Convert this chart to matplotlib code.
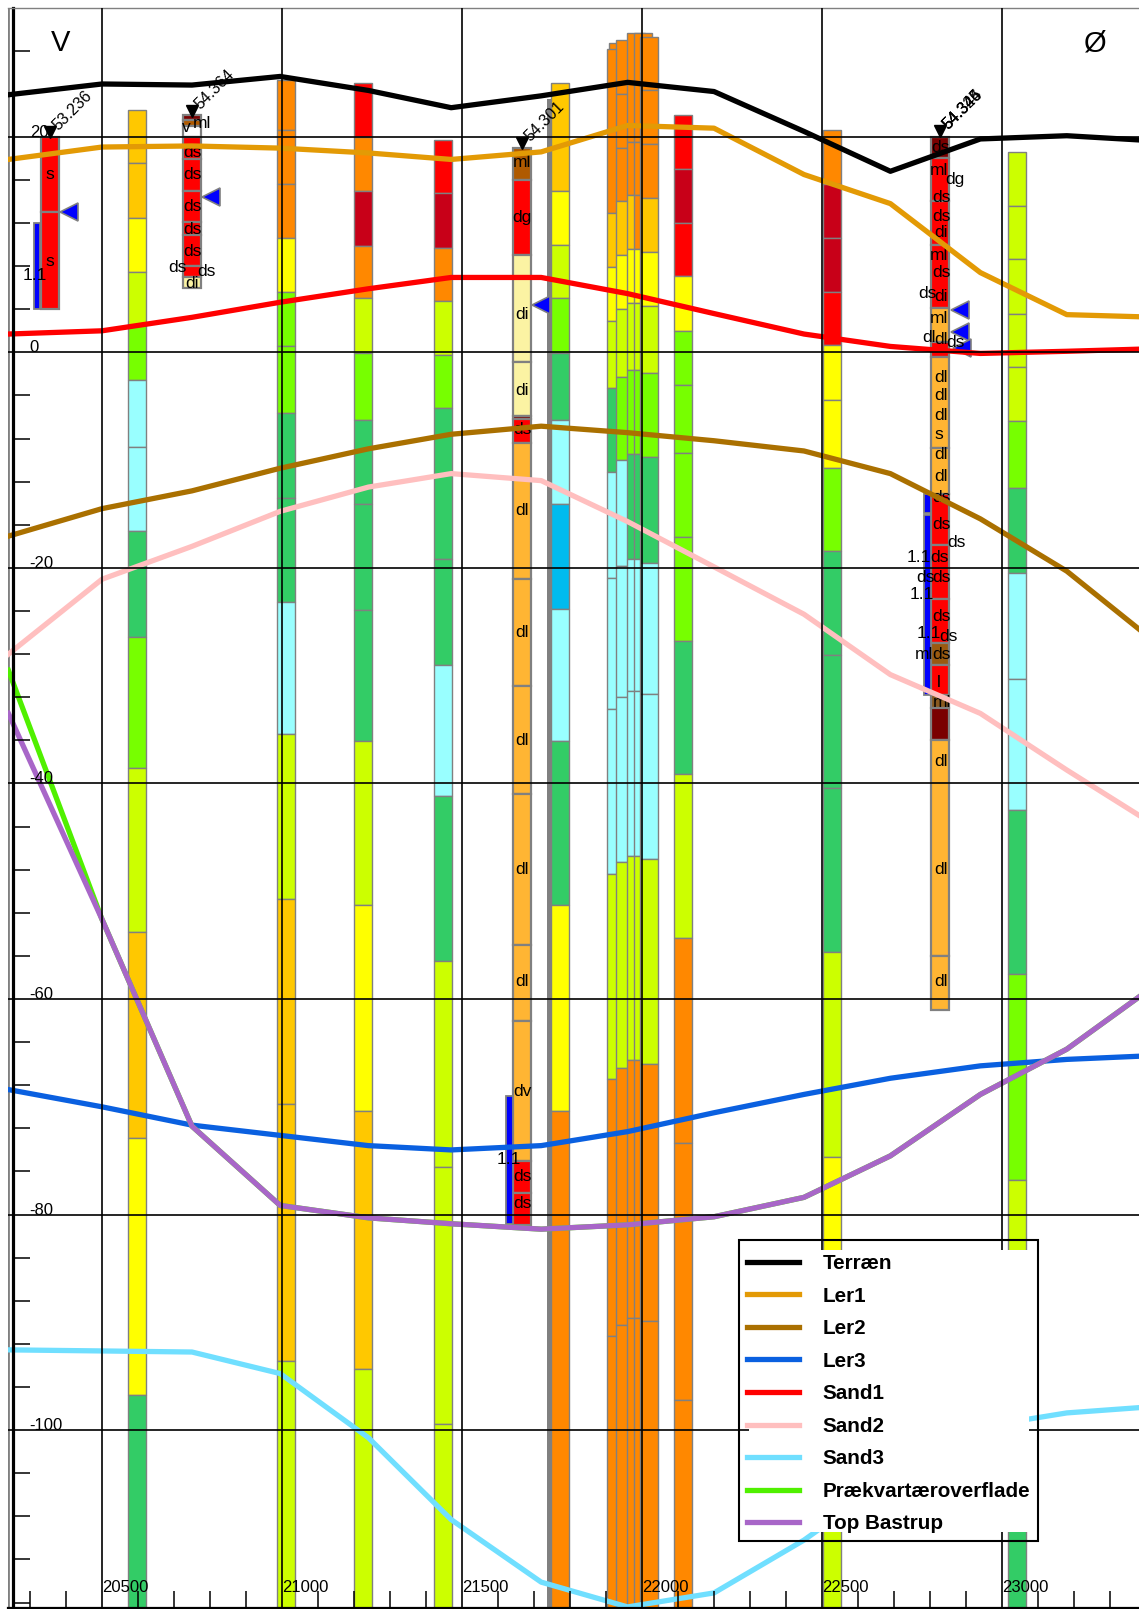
import matplotlib
matplotlib.use("Agg")
import matplotlib.pyplot as plt
from matplotlib.patches import Rectangle
from matplotlib.ticker import MultipleLocator
from matplotlib.transforms import IdentityTransform

plt.rcParams['font.family'] = ['Liberation Sans', 'DejaVu Sans']
plt.rcParams['axes.unicode_minus'] = False

# ---------- surfaces ----------
profile_x = [20240, 20500, 20750, 20995, 21240, 21470, 21720, 21960, 22200, 22450, 22690, 22940, 23180, 23385]
terraen = [23.9, 24.9, 24.8, 25.6, 24.3, 22.7, 23.8, 25.05, 24.2, 20.5, 16.8, 19.8, 20.1, 19.7]
ler1 = [17.9, 19.05, 19.15, 18.95, 18.5, 17.9, 18.6, 21.05, 20.8, 16.5, 13.8, 7.4, 3.5, 3.3]
ler2 = [-17.05, -14.5, -12.85, -10.75, -8.95, -7.6, -6.85, -7.45, -8.2, -9.15, -11.25, -15.45, -20.3, -25.8]
ler3 = [-68.4, -70.0, -71.7, -72.65, -73.6, -74.0, -73.6, -72.3, -70.55, -68.85, -67.35, -66.2, -65.6, -65.3]
sand1 = [1.7, 2.0, 3.25, 4.65, 5.9, 6.95, 6.95, 5.45, 3.6, 1.7, 0.55, -0.1, 0.1, 0.3]
sand2 = [-28.0, -21.05, -18.0, -14.75, -12.5, -11.25, -11.9, -15.7, -19.9, -24.3, -29.9, -33.5, -38.75, -43.05]
sand3 = [-92.55, -92.65, -92.75, -94.75, -100.7, -108.3, -114.1, -116.4, -115.1, -110.2, -104.5, -99.7, -98.4, -97.9]
praekvartaer = [-29.5, -52.6, -71.8, -79.15, -80.3, -80.85, -81.35, -80.95, -80.2, -78.4, -74.55, -68.85, -64.65, -59.7]
top_bastrup = [-33.5, -52.6, -71.8, -79.15, -80.3, -80.85, -81.35, -80.95, -80.2, -78.4, -74.55, -68.85, -64.65, -59.7]

series_names = ['Terræn', 'Ler1', 'Ler2', 'Ler3', 'Sand1', 'Sand2', 'Sand3', 'Prækvartæroverflade', 'Top Bastrup']
series_values = [terraen, ler1, ler2, ler3, sand1, sand2, sand3, praekvartaer, top_bastrup]
series_colors = ['#000000', '#E39A05', '#AA7000', '#0A60E0', '#FF0000', '#FFBFBF', '#70DFFF', '#50F000', '#A866C8']

# ---------- layer colours ----------
RD, DR, OR, AM, YE, YG, LI, GR, CY, SK = ('#FF0000', '#C80018', '#FF8800', '#FFC800', '#FFFF00',
                                           '#CCFF00', '#77FF00', '#33CC66', '#99FFFF', '#00BBEE')
LO, CR, BR, MA, WH = '#FFB533', '#FBF3A3', '#B05A00', '#7A0000', '#FFFFFF'
BOTTOM = -118

# ---------- resistivity model columns: x, layer boundaries, layer colours ----------
models = [
    (20597, [22.5, 17.6, 12.5, 7.5, 2.5, -2.6, -8.8, -16.6, -26.4, -38.6, -53.8, -72.9, -96.7, BOTTOM],
     [AM, AM, YE, YG, LI, CY, CY, GR, LI, YG, AM, YE, GR]),
    (21010, [25.3, 20.6, 15.6, 10.6, 5.6, 0.6, -5.6, -13.5, -23.2, -35.4, -50.7, -69.7, -93.6, BOTTOM],
     [OR, OR, OR, YE, LI, LI, GR, GR, CY, YG, AM, AM, YG]),
    (21224, [25, 20, 15, 9.9, 5, -0.1, -6.3, -14.1, -23.9, -36.1, -51.3, -70.4, -94.3, BOTTOM],
     [RD, OR, DR, OR, YG, LI, GR, GR, GR, YG, YE, AM, YG]),
    (21446, [19.7, 14.8, 9.7, 4.8, -0.2, -5.2, -19.2, -29, -41.2, -56.5, -75.6, -99.4, BOTTOM],
     [RD, DR, OR, YG, LI, GR, GR, CY, GR, YG, YG, YG]),
    (21742, [23.5, BOTTOM], ['#808080']),
    (21771, [25, 15, 10, 5, -0.1, -6.3, -14.1, -23.8, -36.1, -51.3, -70.4, BOTTOM],
     [AM, YE, YG, LI, GR, CY, SK, CY, GR, YE, OR]),
    (21932, [28.7, 12.9, BOTTOM], [OR, OR]),
    (21927, [28.1, 12.9, 7.9, 2.9, -3.3, -11.1, -20.9, -33.1, -48.4, -67.4, -91.3, BOTTOM],
     [OR, AM, YE, YG, GR, CY, CY, CY, YG, OR, OR]),
    (21952, [29, 24, 19, 14, 9, 4, -2.3, -10, -19.8, -32, -47.3, -66.4, -90.2, BOTTOM],
     [OR, OR, OR, AM, YE, YG, LI, CY, CY, CY, YG, OR, OR]),
    (21984, [29.6, 19.5, 14.6, 9.6, 4.6, -1.6, -9.4, -19.2, -31.4, -46.7, -65.7, -89.6, BOTTOM],
     [OR, OR, AM, YE, YG, LI, GR, CY, CY, YG, OR, OR]),
    (22002, [29.6, 19.5, 14.6, 9.6, 4.6, -1.6, -9.4, -19.2, -31.4, -46.7, -65.7, -89.6, BOTTOM],
     [OR, OR, OR, YE, YG, LI, GR, CY, CY, YG, OR, OR]),
    (22019, [29.3, 24.3, 19.3, 14.3, 9.3, 4.3, -1.9, -9.7, -19.5, -31.7, -47, -66, -89.9, BOTTOM],
     [OR, OR, OR, AM, YE, YG, LI, GR, CY, CY, YG, OR, OR]),
    (22113, [22, 17, 12, 7.1, 2, -3, -9.3, -17.1, -26.8, -39.1, -54.3, -73.4, -97.2, BOTTOM],
     [RD, DR, RD, YE, LI, LI, LI, LI, GR, YG, OR, OR, OR]),
    (22528, [20.6, 15.6, 10.6, 5.6, 0.7, -4.4, -10.7, -18.4, -28.1, -40.4, -55.6, -74.7, -93.7, BOTTOM],
     [OR, DR, DR, RD, YE, YE, LI, GR, GR, GR, YG, YE, YG]),
    (23042, [18.6, 13.6, 8.7, 3.6, -1.4, -6.4, -12.6, -20.5, -30.3, -42.5, -57.7, -76.8, -96, BOTTOM],
     [YG, YG, YG, YG, YG, LI, GR, CY, CY, GR, LI, YG, GR]),
]

# ---------- boreholes: x, layer boundaries, layer colours ----------
borehole_l = (20356, [20, 13, 4], [RD, RD])
borehole_m = (20750, [22, 21.6, 21, 20, 17.9, 15, 12.1, 10.9, 8, 7, 6],
              [MA, BR, WH, RD, RD, RD, RD, RD, RD, CR])
borehole_e = (21667, [19, 16, 9.05, -0.9, -5.9, -6.2, -8.4, -21, -31, -41, -55, -62, -75, -78, -81],
              [BR, RD, CR, CR, MA, RD, LO, LO, LO, LO, LO, LO, RD, RD])
borehole_j = (22828, [20, 18, 14, 10, 4.1, 1, -0.4, -8.9, -13.1, -17.9, -22.9, -27, -29, -31.8, -33, -36, -56, -61],
              [MA, RD, RD, RD, LO, RD, LO, LO, RD, RD, RD, '#9A5A10', RD, '#8A5A20', MA, LO, LO])
boreholes = [borehole_l, borehole_m, borehole_e, borehole_j]

# screened intervals: x, top, bottom
screens = [(20320, 12, 4), (21632, -69, -80.9), (22793, -13.1, -14.9), (22793, -15.1, -31.8)]

# water table arrows: x, elevation
water_x = [20408, 20802, 21719, 22883, 22883, 22889]
water_z = [13, 14.4, 4.4, 3.9, 1.9, 0.4]

# ground-level markers and their labels: x, elevation, label
heads = [(20356, 20.4, ['53.236']), (20750, 22.4, ['54.364']), (21667, 19.4, ['54.301']),
         (22828, 20.5, ['54.324', '54.345', '54.346'])]

# lithology labels per borehole: elevation, text, horizontal shift from column centre
labels_l = [(16.5, 's', 0), (8.4, 's', 0), (7.1, '1.1', -15)]
labels_m = [(20.9, 'v', -6), (21.2, 'ml', 10), (18.5, 'ds', 0), (16.5, 'ds', 0), (13.5, 'ds', 0), (11.4, 'ds', 0),
            (9.4, 'ds', 0), (7.9, 'ds', -15), (7.5, 'ds', 14), (6.4, 'di', 0)]
labels_e = [(17.6, 'ml', 0), (12.5, 'dg', 0), (3.5, 'di', 0), (-3.5, 'di', 0), (-7.2, 'ds', 0), (-14.7, 'dl', 0),
            (-26, 'dl', 0), (-36, 'dl', 0), (-48, 'dl', 0), (-58.4, 'dl', 0), (-68.6, 'dv', 0), (-76.5, 'ds', 0),
            (-79, 'ds', 0), (-74.9, '1.1', -13)]
labels_j = [(19, 'ds', 0), (16.9, 'ml', -1), (16, 'dg', 15), (14.4, 'ds', 1), (12.6, 'ds', 1), (11.1, 'di', 1),
            (9, 'ml', -1), (7.4, 'ds', 1), (5.2, 'di', 1), (5.5, 'ds', -13), (3.1, 'ml', -1), (1.4, 'dl', -11),
            (1.2, 'dl', 1), (0.9, 'ds', 15), (-2.3, 'dl', 1), (-4, 'dl', 1), (-5.9, 'dl', 1), (-7.6, 's', -1),
            (-9.5, 'dl', 1), (-11.5, 'dl', 1), (-13.5, 'ds', 1), (-16, 'ds', 1), (-17.6, 'ds', 16), (-19, '1.1', -21),
            (-19, 'ds', -1), (-20.9, 'ds', -15), (-20.9, 'ds', 1), (-22.5, '1.1', -18), (-24.5, 'ds', 1),
            (-26.1, '1.1', -11), (-26.4, 'ds', 8), (-28, 'ml', -16), (-28, 'ds', 1), (-30.6, 'l', -1),
            (-32.5, 'ml', 2), (-38, 'dl', 1), (-48, 'dl', 1), (-58.4, 'dl', 1)]
borehole_labels = [(20356, labels_l), (20750, labels_m), (21667, labels_e), (22828, labels_j)]

x_ticks = [20500, 21000, 21500, 22000, 22500, 23000]
y_ticks = [20, 0, -20, -40, -60, -80, -100]

W, H = 1139, 1609
fig = plt.figure(figsize=(W / 100, H / 100), dpi=100)
ax = fig.add_axes([7.5 / W, (H - 1608) / H, (1139 - 7.5) / W, 1600 / H])
ax.set_xlim(20237.5, 23380.6)
ax.set_ylim(-116.5, 31.95)

COL_W, SCR_W = 50, 17


def draw_column(x, bounds, colors, lw):
    tops = bounds[:-1]
    bottoms = bounds[1:]
    ax.bar([x] * len(colors), [t - b for t, b in zip(tops, bottoms)], bottom=bottoms, width=COL_W,
           color=colors, edgecolor='#808080', linewidth=lw, zorder=1)


for x, bounds, colors in models:
    if len(colors) == 1:
        ax.bar(x, bounds[0] - bounds[1], bottom=bounds[1], width=11, color=colors[0], linewidth=0, zorder=1)
    else:
        draw_column(x, bounds, colors, 1.0)
for x, bounds, colors in boreholes:
    draw_column(x, bounds, colors, 1.6)
for x, top, bot in screens:
    ax.bar(x, top - bot, bottom=bot, width=SCR_W, color='#0000FF', edgecolor='#808080', linewidth=1.3, zorder=1)

ax.plot(water_x, water_z, ls='none', marker='<', ms=13, mfc='#0000FF', mec='#808080', mew=1.2, zorder=2.2)

for x, z, names in heads:
    ax.plot([x], [z], ls='none', marker='v', ms=8.5, color='black', zorder=2.3)
    for name in names:
        ax.annotate(name, (x, z), xytext=(8, 1), textcoords='offset pixels', rotation=45,
                    rotation_mode='anchor', ha='left', va='baseline', fontsize=11.5, zorder=2.3)

for x, items in borehole_labels:
    for z, txt, dx in items:
        ax.annotate(txt, (x, z), xytext=(dx, 0), textcoords='offset pixels', ha='center', va='center',
                    fontsize=12.5, zorder=2.3)

handles = []
for name, vals, col in zip(series_names, series_values, series_colors):
    line, = ax.plot(profile_x, vals, color=col, lw=3.8, label=name, zorder=2.4, solid_joinstyle='round')
    handles.append(line)

# axes furniture
ax.spines['right'].set_visible(False)
ax.spines['top'].set_color('#808080')
ax.spines['top'].set_linewidth(1.0)
ax.spines['bottom'].set_linewidth(1.6)
ax.spines['left'].set_position(('data', 20252))
ax.spines['left'].set_linewidth(2.3)
ax.axvline(20237.5, color='#808080', lw=2.0, zorder=2)

ax.set_xticks(x_ticks)
ax.set_yticks(y_ticks)
ax.xaxis.set_minor_locator(MultipleLocator(100))
ax.yaxis.set_minor_locator(MultipleLocator(4))
ax.set_axisbelow(False)
ax.grid(True, which='major', color='black', lw=1.2)
ax.tick_params(which='minor', direction='in', length=12.2, width=1.1)
ax.tick_params(axis='x', which='major', length=0, pad=-9.5, labelsize=12)
ax.tick_params(axis='y', which='major', length=0, pad=-12.2, labelsize=12)
for lbl in ax.get_xticklabels():
    lbl.set_ha('left')
    lbl.set_va('bottom')
for lbl in ax.get_yticklabels():
    lbl.set_ha('left')
    lbl.set_va('baseline')

ax.annotate('V', (20385, 28.7), ha='center', va='center', fontsize=21, zorder=2.3)
ax.annotate('Ø', (23260, 28.7), ha='center', va='center', fontsize=21, zorder=2.3)

# white panel hiding everything behind the legend, and the legend's outer box
ax.add_patch(Rectangle((749, H - 1532), 280, 282, transform=IdentityTransform(),
                       facecolor='white', edgecolor='none', zorder=4.9))
ax.add_patch(Rectangle((739, H - 1541), 299, 301, transform=IdentityTransform(),
                       fill=False, edgecolor='black', linewidth=1.5, zorder=5.1))
leg = ax.legend(handles=handles, loc='upper left', bbox_to_anchor=(746.7, H - 1254),
                bbox_transform=IdentityTransform(), borderaxespad=0, frameon=False,
                prop={'weight': 'bold', 'size': 14.9}, labelspacing=0.655, handlelength=2.54,
                handletextpad=1.13, borderpad=0)

fig.savefig('out.png', dpi=100, facecolor='white')
